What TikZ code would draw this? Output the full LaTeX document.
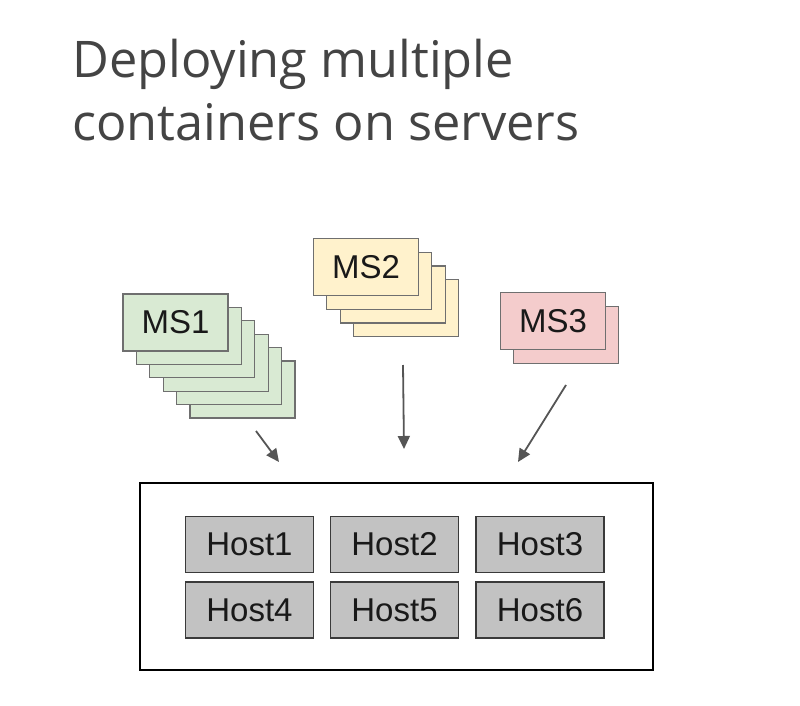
\documentclass[tikz,border=0pt]{standalone}
\usepackage{fontspec}
\setmainfont{Liberation Sans}
\newfontfamily\titlefont{Open Sans}
\usetikzlibrary{arrows.meta}
\definecolor{msgreen}{HTML}{D9EAD3}
\definecolor{msyellow}{HTML}{FFF2CC}
\definecolor{mspink}{HTML}{F4CCCC}
\definecolor{cardline}{HTML}{6F6F6F}
\definecolor{hostfill}{HTML}{C2C2C2}
\definecolor{hostline}{HTML}{3A3A3A}
\definecolor{arrowgray}{HTML}{555555}
\definecolor{titlegray}{HTML}{444444}
\tikzset{
  card/.style={draw=cardline, line width=1.2pt, minimum width=105pt, minimum height=57pt, inner sep=0pt, font=\fontsize{33}{38}\selectfont, text=black!90},
  hostbox/.style={draw=hostline, fill=hostfill, line width=1.4pt, minimum width=128pt, minimum height=56pt, inner sep=0pt, font=\fontsize{33}{38}\selectfont, text=black!90},
  flow/.style={draw=arrowgray, line width=1.8pt, -{Triangle[length=13pt,width=12pt]}},
  titletext/.style={anchor=base west, inner sep=0pt, text=titlegray, font=\titlefont\fontsize{50.5}{56}\selectfont}
}
\begin{document}
\begin{tikzpicture}[x=1pt,y=-1pt]
\useasboundingbox (0,0) rectangle (800,706);
% title
\node[titletext] (t1) at (72,78) {Deploying multiple};
\node[titletext] (t2) at (72,140) {containers on servers};
% MS1 stack
\foreach \i in {5,4,3,2,1} {
  \node[card, fill=msgreen] (ms1-\i) at ({175.5+13.4*\i},{322.5+13.4*\i}) {};
}
\node[card, fill=msgreen] (ms1) at (175.5,322.5) {MS1};
% MS2 stack
\foreach \i in {3,2,1} {
  \node[card, fill=msyellow] (ms2-\i) at ({366+13.3*\i},{267+13.7*\i}) {};
}
\node[card, fill=msyellow] (ms2) at (366,267) {MS2};
% MS3 stack
\node[card, fill=mspink] (ms3-1) at (566,335) {};
\node[card, fill=mspink] (ms3) at (553,321) {MS3};
% server
\node[draw=black, line width=1.8pt, minimum width=513pt, minimum height=187pt, inner sep=0pt] (server) at (396.5,576.5) {};
\node[hostbox] (h1) at (249.5,544.5) {Host1};
\node[hostbox] (h2) at (394.5,544.5) {Host2};
\node[hostbox] (h3) at (540,544.5) {Host3};
\node[hostbox] (h4) at (249.5,610) {Host4};
\node[hostbox] (h5) at (394.5,610) {Host5};
\node[hostbox] (h6) at (540,610) {Host6};
% arrows
\coordinate (a1s) at (256,431);
\coordinate (a1e) at (279,462);
\coordinate (a2s) at (403,365);
\coordinate (a2e) at (404,449);
\coordinate (a3s) at (566,385);
\coordinate (a3e) at (518,462);
\draw[flow] (a1s) -- (a1e);
\draw[flow] (a2s) -- (a2e);
\draw[flow] (a3s) -- (a3e);
\end{tikzpicture}
\end{document}
